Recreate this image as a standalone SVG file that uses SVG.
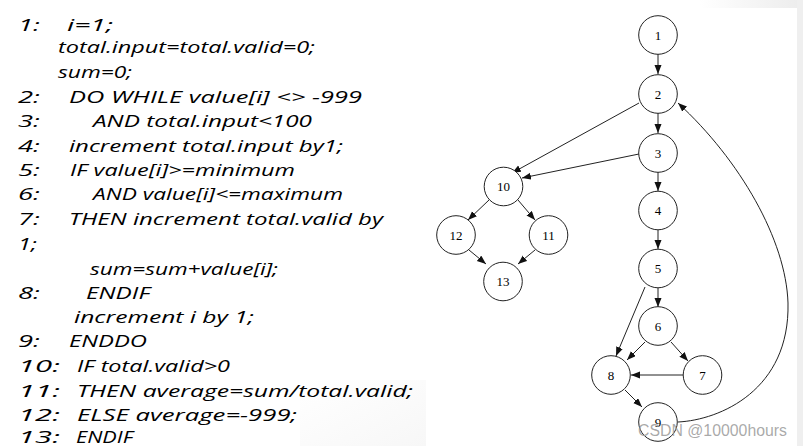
<svg xmlns="http://www.w3.org/2000/svg" width="803" height="446" viewBox="0 0 803 446">
<defs>
<linearGradient id="gTop" x1="0" y1="0" x2="1" y2="0">
<stop offset="0" stop-color="#ffffff"/>
<stop offset="1" stop-color="#ececec"/>
</linearGradient>
<linearGradient id="gBot" x1="0" y1="0" x2="1" y2="1">
<stop offset="0" stop-color="#ffffff"/>
<stop offset="1" stop-color="#f7f7f7"/>
</linearGradient>
<marker id="arr" markerUnits="userSpaceOnUse" markerWidth="10" markerHeight="8" refX="9" refY="3.5" orient="auto">
<path d="M0,0 L9,3.5 L0,7 z" fill="#111"/>
</marker>
<style>
.code{font-family:"Open Sans","DejaVu Sans",sans-serif;font-style:italic;font-size:17px;fill:#000}
.node circle{fill:#fff;stroke:#222;stroke-width:1}
.node text{font-family:"Liberation Serif","Times New Roman",serif;font-size:13px;text-anchor:middle;fill:#000}
.edge{stroke:#222;stroke-width:1;fill:none;marker-end:url(#arr)}
.wm{font-family:"Liberation Sans",Arial,sans-serif;font-size:16px;fill:#9a9a9a;fill-opacity:0.85}
</style>
</defs>
<rect x="0" y="0" width="803" height="446" fill="#ffffff"/>
<rect x="700" y="0" width="103" height="8" fill="url(#gTop)"/>
<rect x="797" y="0" width="6" height="446" fill="#efefef"/>
<rect x="300" y="380" width="126" height="66" fill="url(#gBot)"/>

<g id="code">
<text class="code" x="18" y="31" textLength="22" lengthAdjust="spacingAndGlyphs">1:</text>
<text class="code" x="67" y="31" textLength="46" lengthAdjust="spacingAndGlyphs">i=1;</text>
<text class="code" x="58" y="53" textLength="257" lengthAdjust="spacingAndGlyphs">total.input=total.valid=0;</text>
<text class="code" x="58" y="78" textLength="74" lengthAdjust="spacingAndGlyphs">sum=0;</text>
<text class="code" x="18" y="103" textLength="22" lengthAdjust="spacingAndGlyphs">2:</text>
<text class="code" x="69" y="103" textLength="293" lengthAdjust="spacingAndGlyphs">DO WHILE value[i] &lt;&gt; -999</text>
<text class="code" x="18" y="127" textLength="22" lengthAdjust="spacingAndGlyphs">3:</text>
<text class="code" x="93" y="127" textLength="219" lengthAdjust="spacingAndGlyphs">AND total.input&lt;100</text>
<text class="code" x="18" y="152" textLength="22" lengthAdjust="spacingAndGlyphs">4:</text>
<text class="code" x="69" y="152" textLength="274" lengthAdjust="spacingAndGlyphs">increment total.input by1;</text>
<text class="code" x="18" y="176" textLength="22" lengthAdjust="spacingAndGlyphs">5:</text>
<text class="code" x="70" y="176" textLength="225" lengthAdjust="spacingAndGlyphs">IF value[i]&gt;=minimum</text>
<text class="code" x="18" y="200" textLength="22" lengthAdjust="spacingAndGlyphs">6:</text>
<text class="code" x="93" y="200" textLength="250" lengthAdjust="spacingAndGlyphs">AND value[i]&lt;=maximum</text>
<text class="code" x="18" y="225" textLength="22" lengthAdjust="spacingAndGlyphs">7:</text>
<text class="code" x="69" y="225" textLength="314" lengthAdjust="spacingAndGlyphs">THEN increment total.valid by</text>
<text class="code" x="18" y="250" textLength="19" lengthAdjust="spacingAndGlyphs">1;</text>
<text class="code" x="90" y="275" textLength="188" lengthAdjust="spacingAndGlyphs">sum=sum+value[i];</text>
<text class="code" x="18" y="299" textLength="22" lengthAdjust="spacingAndGlyphs">8:</text>
<text class="code" x="86" y="299" textLength="64" lengthAdjust="spacingAndGlyphs">ENDIF</text>
<text class="code" x="74" y="323" textLength="180" lengthAdjust="spacingAndGlyphs">increment i by 1;</text>
<text class="code" x="18" y="347" textLength="22" lengthAdjust="spacingAndGlyphs">9:</text>
<text class="code" x="69" y="347" textLength="78" lengthAdjust="spacingAndGlyphs">ENDDO</text>
<text class="code" x="18" y="372" textLength="42" lengthAdjust="spacingAndGlyphs">10:</text>
<text class="code" x="77" y="372" textLength="153" lengthAdjust="spacingAndGlyphs">IF total.valid&gt;0</text>
<text class="code" x="18" y="397" textLength="42" lengthAdjust="spacingAndGlyphs">11:</text>
<text class="code" x="77" y="397" textLength="336" lengthAdjust="spacingAndGlyphs">THEN average=sum/total.valid;</text>
<text class="code" x="18" y="421" textLength="42" lengthAdjust="spacingAndGlyphs">12:</text>
<text class="code" x="77" y="421" textLength="220" lengthAdjust="spacingAndGlyphs">ELSE average=-999;</text>
<text class="code" x="18" y="443" textLength="42" lengthAdjust="spacingAndGlyphs">13:</text>
<text class="code" x="76" y="443" textLength="57" lengthAdjust="spacingAndGlyphs">ENDIF</text>
</g>

<g id="connectors">
<path class="edge" d="M658,54 L658,74"/>
<path class="edge" d="M658,113 L658,133"/>
<path class="edge" d="M658,172 L658,191"/>
<path class="edge" d="M658,230 L658,249"/>
<path class="edge" d="M658,288 L658,307"/>
<path class="edge" d="M639,103 L512,173"/>
<path class="edge" d="M639,154 L522,178"/>
<path class="edge" d="M489,200 L468,220"/>
<path class="edge" d="M518,200 L535,220"/>
<path class="edge" d="M469,250 L486,264"/>
<path class="edge" d="M535,250 L518,264"/>
<path class="edge" d="M645,287 L616,356"/>
<path class="edge" d="M645,342 L627,360"/>
<path class="edge" d="M671,342 L688,361"/>
<path class="edge" d="M683,375 L631,375"/>
<path class="edge" d="M625,390 L642,407"/>
<path class="edge" d="M678,422 C720,420 790,390 788,303 C786,240 740,160 678,103"/>
</g>

<g id="n1" class="node"><circle cx="658" cy="35" r="19.3"/><text x="658" y="39.5">1</text></g>
<g id="n2" class="node"><circle cx="658" cy="94" r="19.3"/><text x="658" y="98.5">2</text></g>
<g id="n3" class="node"><circle cx="658" cy="153" r="19.3"/><text x="658" y="157.5">3</text></g>
<g id="n4" class="node"><circle cx="658" cy="210.5" r="19.3"/><text x="658" y="215">4</text></g>
<g id="n5" class="node"><circle cx="658" cy="268.5" r="19.3"/><text x="658" y="273">5</text></g>
<g id="n6" class="node"><circle cx="658" cy="326" r="19.3"/><text x="658" y="330.5">6</text></g>
<g id="n7" class="node"><circle cx="702.5" cy="375" r="19.3"/><text x="702.5" y="379.5">7</text></g>
<g id="n8" class="node"><circle cx="611" cy="375" r="19.3"/><text x="611" y="379.5">8</text></g>
<g id="n9" class="node"><circle cx="658" cy="422" r="19.3"/><text x="658" y="426.5">9</text></g>
<g id="n10" class="node"><circle cx="503.5" cy="186.5" r="19.3"/><text x="503.5" y="191">10</text></g>
<g id="n11" class="node"><circle cx="548.5" cy="235" r="19.3"/><text x="548.5" y="239.5">11</text></g>
<g id="n12" class="node"><circle cx="456" cy="235" r="19.3"/><text x="456" y="239.5">12</text></g>
<g id="n13" class="node"><circle cx="503" cy="281.5" r="19.3"/><text x="503" y="286">13</text></g>

<text class="wm" x="638" y="436" textLength="149" lengthAdjust="spacingAndGlyphs">CSDN @10000hours</text>
</svg>
